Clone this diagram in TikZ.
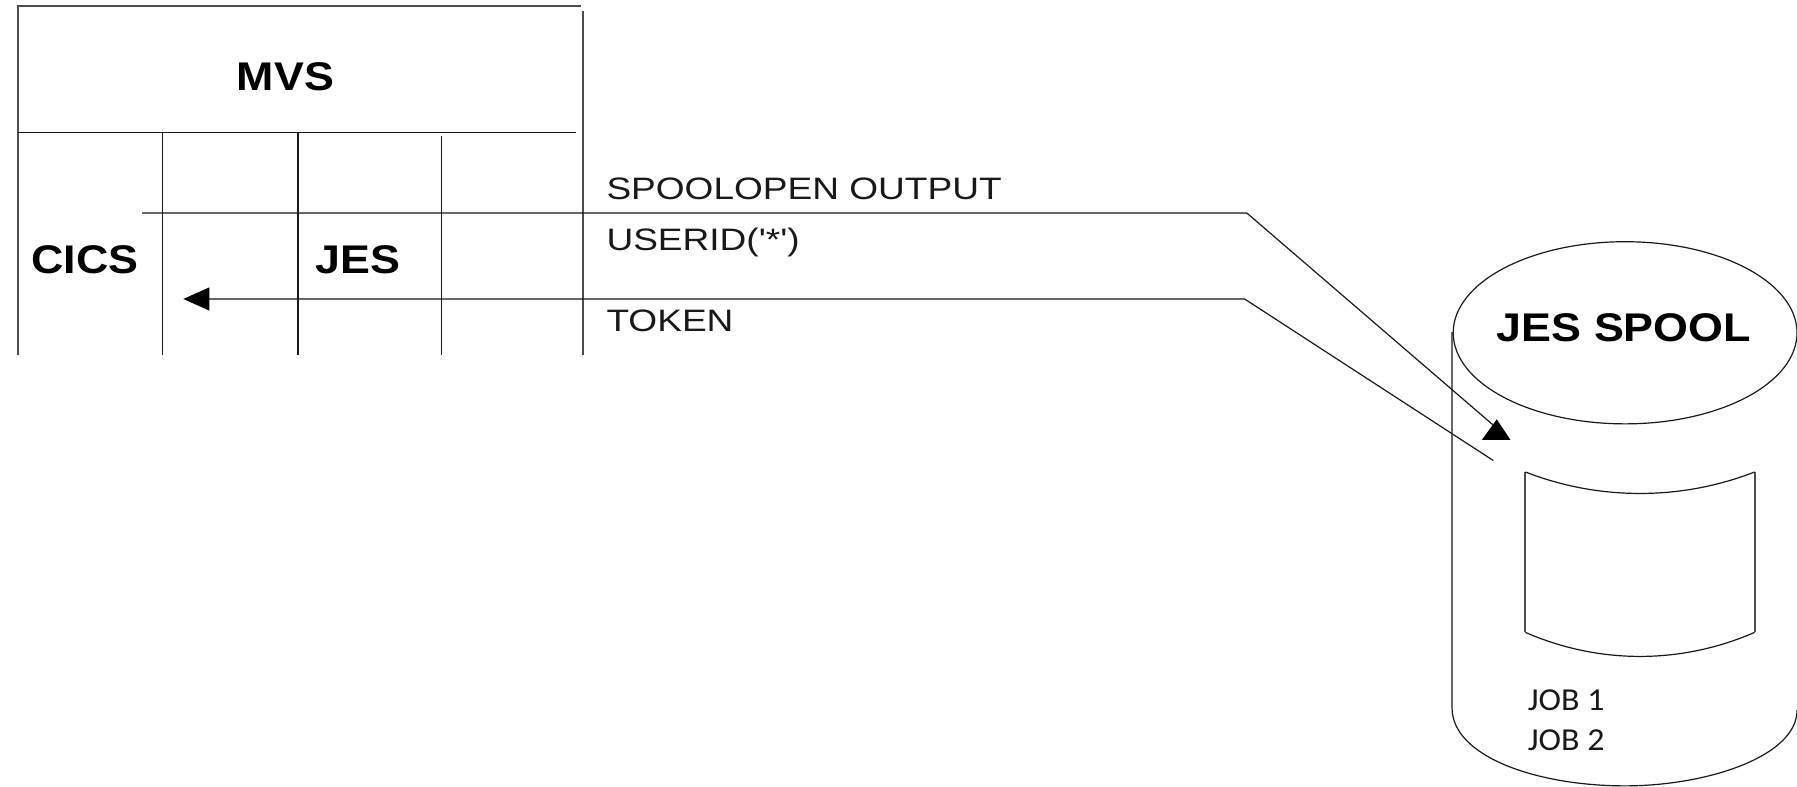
\documentclass[tikz,border=0pt]{standalone}
\usepackage{fontspec}
\setmainfont{Liberation Sans}
\newfontfamily\quotefont[Ligatures=TeXOff]{Liberation Sans}
\newfontfamily\jobfont{Carlito}
\usetikzlibrary{arrows.meta}
\tikzset{
  ln/.style={draw=black!90,line width=1.2pt},
  thick ln/.style={draw=black!70,line width=1.9pt},
  boldlab/.style={font=\fontsize{40}{44}\selectfont\bfseries,inner sep=0pt,text=black,xscale=1.12,transform shape},
  lab/.style={font=\fontsize{31}{36}\selectfont,inner sep=0pt,anchor=west,text=black!90,xscale=1.195,transform shape},
  joblab/.style={font=\jobfont\fontsize{32}{36}\selectfont,inner sep=0pt,anchor=west,text=black!90,xscale=1.06,transform shape}
}
\begin{document}
\begin{tikzpicture}[x=1.14605pt,y=-1.1456pt]
\useasboundingbox (0,0) rectangle (1568,686.7);
% MVS frame
\draw[thick ln] (16,310) -- (16,5) -- (507,5);
\draw[thick ln] (509,10) -- (509,310);
\draw[ln] (15,116) -- (503,116);
\draw[ln] (142,116) -- (142,310);
\draw[ln] (260,116) -- (260,310);
\draw[ln] (385,119) -- (385,310);
\node[boldlab] (mvs) at (249,67) {MVS};
\node[boldlab] (cics) at (74,227) {CICS};
\node[boldlab] (jes) at (312,227) {JES};
% connectors
\coordinate (reqstart) at (124,186);
\coordinate (reqbend) at (1088,186);
\coordinate (reqend) at (1304,372);
\coordinate (tokstart) at (1303,402);
\coordinate (tokbend) at (1086,261);
\coordinate (tokend) at (160,261);
\draw[ln] (reqstart) -- (reqbend) -- (reqend);
\fill[black] (1306,366) -- (1318,384) -- (1293,384) -- cycle;
\draw[ln,-{Triangle[length=26pt,width=23pt,color=black]}] (tokstart) -- (tokbend) -- (tokend);
\node[lab] (l1) at (529,165) {SPOOLOPEN OUTPUT};
\node[lab] (l2) at (529,212) {\quotefont USERID('*')};
\node[lab] (l3) at (529,280) {TOKEN};
% cylinder
\draw[ln] (1418,290.5) ellipse [x radius=150,y radius=79.5];
\draw[ln] (1267,290) -- (1267,618)
  .. controls (1267,660) and (1340,686) .. (1418,686)
  .. controls (1490,686) and (1568,660) .. (1568,620);
\node[boldlab] (spool) at (1417,286) {JES SPOOL};
% window
\draw[thick ln] (1331,552) -- (1331,412);
\draw[thick ln] (1531,412) -- (1531,552);
\draw[ln] (1331,412) .. controls (1395,437) and (1467,437) .. (1531,412);
\draw[ln] (1331,552) .. controls (1395,580) and (1467,580) .. (1531,552);
\node[joblab] (j1) at (1333,611) {JOB 1};
\node[joblab] (j2) at (1333,646) {JOB 2};
\end{tikzpicture}
\end{document}
